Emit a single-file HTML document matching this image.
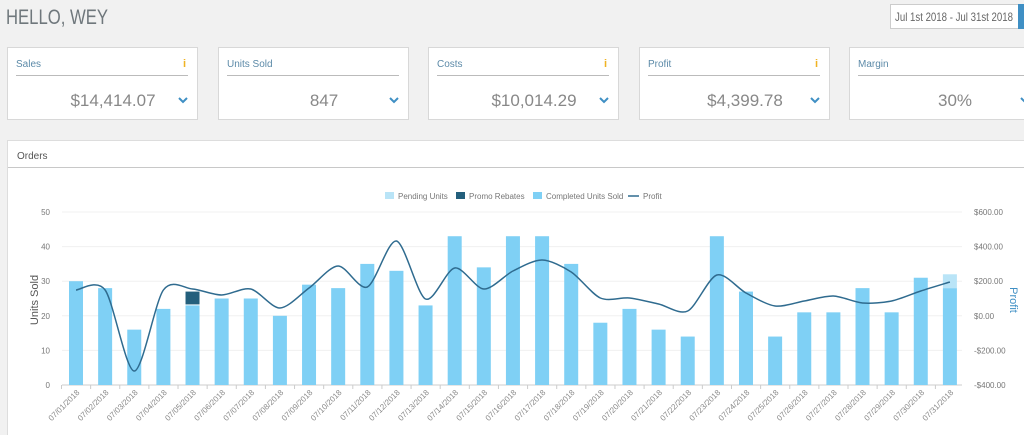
<!DOCTYPE html>
<html><head><meta charset="utf-8"><style>
body{margin:0;width:1024px;height:435px;overflow:hidden;background:#f1f1f1;font-family:"Liberation Sans",sans-serif}
svg{position:absolute;left:0;top:0}
</style></head><body>
<svg id="s" width="1024" height="435" xmlns="http://www.w3.org/2000/svg" font-family="Liberation Sans, sans-serif">
<text x="6" y="24" font-size="21" fill="#6f777c" textLength="102" lengthAdjust="spacingAndGlyphs">HELLO, WEY</text>
<rect x="890.5" y="4.5" width="130" height="24" fill="#fff" stroke="#ccc"/>
<rect x="1018" y="4" width="6" height="25" fill="#3f8fc4"/>
<text x="895" y="21" font-size="12" fill="#666" textLength="118" lengthAdjust="spacingAndGlyphs">Jul 1st 2018 - Jul 31st 2018</text>
<g id="cards"></g>
<rect x="7.5" y="140.5" width="1030" height="300" fill="#fff" stroke="#ddd"/>
<text x="17" y="159" font-size="10" fill="#555">Orders</text>
<line x1="8" y1="167.5" x2="1024" y2="167.5" stroke="#c8c8c8"/>
<g font-size="8" fill="#777">
<rect x="385" y="192" width="9" height="7" fill="#b9e4f7"/><text x="398" y="199">Pending Units</text>
<rect x="456" y="192" width="9" height="7" fill="#245f7c"/><text x="469" y="199">Promo Rebates</text>
<rect x="533" y="192" width="9" height="7" fill="#7fd0f5"/><text x="546" y="199">Completed Units Sold</text>
<line x1="628" y1="196" x2="639" y2="196" stroke="#2f6b8f" stroke-width="1.5"/><text x="643" y="199">Profit</text>
</g>
<g id="chart"></g>
</svg>
<script>
var ns="http://www.w3.org/2000/svg",s=document.getElementById('chart'),c=document.getElementById('cards');
function el(p,t,a,txt){var e=document.createElementNS(ns,t);for(var k in a)e.setAttribute(k,a[k]);if(txt!=null)e.textContent=txt;p.appendChild(e);return e;}
var cards=[[7,"Sales","$14,414.07",1],[218,"Units Sold","847",0],[428,"Costs","$10,014.29",1],[639,"Profit","$4,399.78",1],[849,"Margin","30%",0]];
cards.forEach(function(d){var x=d[0];
el(c,'rect',{x:x+.5,y:47.5,width:190,height:72,fill:'#fff',stroke:'#d8d8d8'});
el(c,'text',{x:x+9,y:67,'font-size':10,fill:'#5c8aa8'},d[1]);
el(c,'line',{x1:x+9,y1:75.5,x2:x+181,y2:75.5,stroke:'#bbb'});
if(d[3])el(c,'text',{x:x+176,y:67,'font-size':11,fill:'#f0b323','font-weight':'bold'},'i');
el(c,'text',{x:x+106,y:106,'font-size':17,fill:'#888','text-anchor':'middle'},d[2]);
el(c,'path',{d:'M'+(x+172)+' 98 l4 4 l4 -4',stroke:'#3f8fc4','stroke-width':2,fill:'none'});
});
var y0=385,k=3.46;
for(var i=0;i<=5;i++){var y=y0-i*10*k;
el(s,'line',{x1:62,y1:y,x2:962,y2:y,stroke:i==0?'#ccc':'#f0f0f0'});
el(s,'text',{x:50,y:y+3,'font-size':8,fill:'#777','text-anchor':'end'},i*10);}
var rl=['$600.00','$400.00','$200.00','$0.00','-$200.00','-$400.00'];
rl.forEach(function(t,i){el(s,'text',{x:974,y:212+i*34.6+3,'font-size':8,fill:'#777'},t);});
el(s,'text',{x:0,y:0,'font-size':11,fill:'#555','text-anchor':'middle',transform:'translate(38,300) rotate(-90)'},'Units Sold');
el(s,'text',{x:0,y:0,'font-size':11,fill:'#3f8fc4','text-anchor':'middle',transform:'translate(1010,300) rotate(90)'},'Profit');
var v=[30,28,16,22,23,25,25,20,29,28,35,33,23,43,34,43,43,35,18,22,16,14,43,27,14,21,21,28,21,31,28];
var p=[290,290,371,290,289,295,289,308,288,266,287,241,299,268,289,271,260,272,298,298,304,311,275,293,306,301,296,303,301,291,282];
var pts=[];
v.forEach(function(val,i){var cx=76+i*29.13;
el(s,'rect',{x:cx-7,y:y0-val*k,width:14,height:val*k,fill:'#7fd0f5'});
if(i==4)el(s,'rect',{x:cx-7,y:y0-27*k,width:14,height:4*k-1,fill:'#245f7c'});
if(i==30)el(s,'rect',{x:cx-7,y:y0-32*k,width:14,height:4*k,fill:'#b9e4f7'});
el(s,'line',{x1:cx-14.5,y1:385,x2:cx-14.5,y2:389,stroke:'#ccc'});
var dd=(i+1<10?'0':'')+(i+1);
el(s,'text',{x:0,y:0,'font-size':8,fill:'#888','text-anchor':'end',transform:'translate('+(cx+4)+',393) rotate(-45)'},'07/'+dd+'/2018');
pts.push([cx,p[i]]);});
var d='M'+pts[0][0]+' '+pts[0][1];
for(var i=0;i<pts.length-1;i++){var a=pts[Math.max(i-1,0)],b=pts[i],q=pts[i+1],e=pts[Math.min(i+2,pts.length-1)];
d+=' C'+(b[0]+(q[0]-a[0])/7)+' '+(b[1]+(q[1]-a[1])/7)+' '+(q[0]-(e[0]-b[0])/7)+' '+(q[1]-(e[1]-b[1])/7)+' '+q[0]+' '+q[1];}
el(s,'path',{d:d,fill:'none',stroke:'#2f6b8f','stroke-width':1.5});
</script>
</body></html>
